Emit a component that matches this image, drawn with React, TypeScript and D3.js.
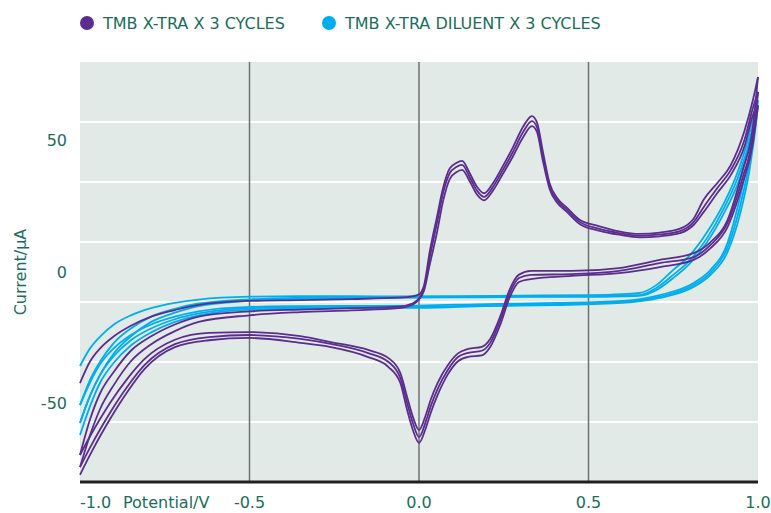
import React from "react";
import * as d3 from "d3";

// TMB X-TRA, forward sweeps (potential in V, current in µA)
const tmbFwdV = [-1.0, -0.97, -0.94, -0.9, -0.85, -0.79, -0.72, -0.65, -0.5, -0.35, -0.2, -0.06, -0.02, 0.0, 0.015, 0.032, 0.053, 0.071, 0.091, 0.11, 0.127, 0.15, 0.171, 0.192, 0.218, 0.248, 0.277, 0.307, 0.333, 0.348, 0.366, 0.386, 0.407, 0.437, 0.475, 0.53, 0.59, 0.65, 0.71, 0.77, 0.81, 0.84, 0.88, 0.92, 0.96, 0.985, 1.0];
const tmbFwd1 = [-42.3, -34, -29, -24.5, -20.5, -17, -14.5, -12.5, -11, -10.7, -10.3, -9.8, -9.3, -8.5, -5, 8, 21, 32, 39.5, 41.5, 42.3, 37.5, 32.5, 30, 33.8, 40.5, 47.5, 55.3, 59.4, 57, 45.5, 33.5, 28.3, 24.4, 19.8, 17.5, 15.5, 14.5, 15, 16.5, 20.3, 27.6, 33.9, 40.8, 53.7, 65.5, 74.3];
const tmbFwd2 = [-69.7, -56, -46, -38, -30, -24.5, -20, -17, -15, -14.3, -13.8, -13.2, -12, -10, -6, 5.7, 18.7, 30.1, 37.7, 40, 40.8, 36, 31, 28.6, 32.4, 39, 45.7, 53.3, 57.5, 55.2, 43.8, 32.4, 27.4, 23.6, 19, 16.5, 14.8, 13.8, 14.3, 15.6, 19, 24.8, 32, 38.9, 50.3, 62.5, 68.6];
const tmbFwd3 = [-74.3, -62, -52, -43, -34, -27.5, -22.5, -19, -16.5, -15.3, -14.6, -13.8, -12.5, -10.5, -7, 3, 15, 27, 35.5, 38, 38.9, 34.5, 29.5, 27.3, 31, 37.5, 44, 51.3, 55.6, 53.4, 42, 31.3, 26.5, 22.8, 18.2, 15.8, 14.2, 13.2, 13.6, 14.8, 17.9, 22.9, 30.1, 37, 47.8, 59.8, 63.6];

// TMB X-TRA, reverse sweeps
const tmbRevV = [-1.0, -0.97, -0.94, -0.91, -0.86, -0.81, -0.72, -0.62, -0.5, -0.35, -0.26, -0.15, -0.09, -0.055, -0.035, -0.018, 0.0, 0.02, 0.035, 0.055, 0.085, 0.115, 0.145, 0.185, 0.21, 0.24, 0.268, 0.295, 0.33, 0.45, 0.59, 0.71, 0.81, 0.86, 0.91, 0.955, 0.985, 1.0];
const tmbRev1 = [-69.7, -62.5, -55.8, -49.6, -40.6, -33.2, -25.8, -23.2, -22.9, -24.4, -26.7, -29.7, -32.8, -38.5, -47.6, -55.2, -60.2, -54.5, -48.5, -42.2, -35.5, -31, -29.3, -28.5, -25.5, -16.8, -6.5, -1, 0.4, 0.4, 1.5, 4.6, 7.2, 11.4, 19.8, 38.9, 55.2, 74.3];
const tmbRev2 = [-74.3, -66.8, -59.8, -53.3, -43.6, -35.5, -27.5, -24.8, -24, -25.5, -27.4, -30.9, -34.3, -40.4, -49.9, -57.5, -62.9, -57, -51, -44.5, -37.3, -32.4, -30.8, -30, -27, -18.3, -8, -2.3, -1.1, -0.8, 0.4, 3.4, 5.7, 10.3, 18.7, 36.2, 51.4, 68.6];
const tmbRev3 = [-77.3, -69.6, -62.4, -55.7, -45.6, -37, -28.6, -26, -25.1, -27, -28.6, -32.4, -36.2, -42.3, -52.6, -60.2, -65.1, -59.5, -53.5, -46.8, -39, -34, -32.3, -31.8, -28.6, -20, -9.5, -3.8, -2.7, -1.5, -0.4, 1.9, 4.6, 9.1, 17.1, 33.9, 49.1, 63.6];

// TMB X-TRA diluent, forward sweeps
const dilFwdV = [-1.0, -0.97, -0.94, -0.9, -0.85, -0.79, -0.72, -0.65, -0.5, -0.35, -0.2, -0.06, 0.1, 0.3, 0.5, 0.6, 0.65, 0.7, 0.75, 0.8, 0.85, 0.9, 0.94, 0.97, 0.99, 1.0];
const dilFwd1 = [-35.8, -29, -24.5, -20, -16.5, -13.8, -11.8, -10.5, -9.4, -9.2, -9.2, -9.3, -9.2, -9, -8.8, -8.4, -8, -5, 0.8, 6.5, 15.2, 26.3, 38.1, 50.3, 61.7, 68.6];
const dilFwd2 = [-50.7, -41, -34, -27, -21.5, -17, -14, -12, -10.4, -9.8, -9.6, -9.6, -9.5, -9.3, -9.2, -8.9, -8.8, -6.1, -1.1, 4.6, 13, 24.4, 35.8, 47.6, 58.7, 65.5];
const dilFwd3 = [-57.5, -47, -39, -31, -24.5, -19, -15.5, -13, -11, -10.2, -9.9, -9.8, -9.7, -9.5, -9.5, -9.3, -9.1, -6.9, -2.3, 3.4, 11.4, 22.5, 33.5, 45.3, 56.4, 63.2];

// TMB X-TRA diluent, reverse sweeps
const dilRevV = [-1.0, -0.97, -0.94, -0.9, -0.85, -0.79, -0.72, -0.65, -0.5, -0.35, -0.2, 0.0, 0.2, 0.4, 0.6, 0.71, 0.81, 0.86, 0.91, 0.945, 0.975, 0.995, 1.0];
const dilRev1 = [-50.7, -42, -35, -29, -24, -20, -17, -15, -13.3, -13, -12.9, -12.8, -12.2, -11.8, -11, -8.8, -4.2, 0.8, 11, 27.4, 45.3, 62, 68.6];
const dilRev2 = [-57.5, -47, -39, -32, -26, -21.5, -18, -15.8, -13.8, -13.4, -13.3, -13.3, -12.6, -12.2, -11.4, -9.4, -5, -0.2, 9.3, 24, 42, 59.5, 65.5];
const dilRev3 = [-62.1, -51, -42, -34.5, -28, -23, -19, -16.5, -14.3, -13.9, -13.7, -13.7, -13, -12.6, -11.8, -9.9, -5.7, -1.1, 7.6, 21, 38.9, 57.5, 63.2];

const xTicks = [-1, -0.5, 0, 0.5, 1];
const yTicks = [50, 0, -50];
const legendLabels = ["TMB X-TRA X 3 CYCLES", "TMB X-TRA DILUENT X 3 CYCLES"];

const PURPLE = "#5b2d8f";
const BLUE = "#00aeef";
const TEXT = "#1a6e5c";
const FONT = "'DejaVu Sans', sans-serif";

const zip = (xs: number[], ys: number[]) => xs.map((v, i) => [v, ys[i]] as [number, number]);

export default function App() {
  const width = 771;
  const height = 513;
  const left = 80, right = 758, top = 62, bottom = 482;

  const x = d3.scaleLinear().domain([-1, 1]).range([left, right]);
  const y = d3.scaleLinear().domain([-80, 80]).range([bottom, top]);
  const line = d3
    .line<[number, number]>()
    .x((d) => x(d[0]))
    .y((d) => y(d[1]))
    .curve(d3.curveMonotoneX);

  // horizontal bands: plot split in 7 equal parts
  const bands = d3.range(1, 7).map((k) => -80 + (k * 160) / 7);

  const blueSeries = [
    zip(dilFwdV, dilFwd1), zip(dilFwdV, dilFwd2), zip(dilFwdV, dilFwd3),
    zip(dilRevV, dilRev1), zip(dilRevV, dilRev2), zip(dilRevV, dilRev3),
  ];
  const purpleSeries = [
    zip(tmbFwdV, tmbFwd1), zip(tmbFwdV, tmbFwd2), zip(tmbFwdV, tmbFwd3),
    zip(tmbRevV, tmbRev1), zip(tmbRevV, tmbRev2), zip(tmbRevV, tmbRev3),
  ];

  return (
    <svg
      width={width}
      height={height}
      style={{ position: "absolute", left: 0, top: 0, background: "#fff" }}
      fontFamily={FONT}
    >
      {/* legend */}
      <g fontSize={16} fill={TEXT}>
        <circle cx={87} cy={23} r={7} fill={PURPLE} />
        <text x={103} y={29}>{legendLabels[0]}</text>
        <circle cx={329} cy={23} r={7} fill={BLUE} />
        <text x={345} y={29}>{legendLabels[1]}</text>
      </g>

      <rect x={left} y={top} width={right - left} height={bottom - top} fill="#e1eae7" />
      {bands.map((b) => (
        <line key={b} x1={left} x2={right} y1={y(b)} y2={y(b)} stroke="#fff" strokeWidth={2} />
      ))}
      {xTicks.slice(1, -1).map((t) => (
        <line key={t} x1={x(t)} x2={x(t)} y1={top} y2={bottom} stroke="#707070" strokeWidth={1.5} />
      ))}

      <g fill="none" strokeWidth={1.8} strokeLinejoin="round">
        {blueSeries.map((s, i) => (
          <path key={"b" + i} d={line(s) || ""} stroke={BLUE} />
        ))}
        {purpleSeries.map((s, i) => (
          <path key={"p" + i} d={line(s) || ""} stroke={PURPLE} />
        ))}
      </g>

      <line x1={left} x2={right} y1={bottom} y2={bottom} stroke="#231f20" strokeWidth={3} />

      {/* axes text */}
      <g fontSize={16} fill={TEXT}>
        {xTicks.map((t, i) => (
          <text key={t} x={x(t)} y={508} textAnchor={i === 0 ? "start" : "middle"}>
            {t.toFixed(1)}
          </text>
        ))}
        <text x={123} y={508}>Potential/V</text>
        {yTicks.map((t) => (
          <text key={t} x={67} y={y(t)} dy="0.35em" textAnchor="end">
            {t}
          </text>
        ))}
        <text transform="translate(26,272) rotate(-90)" textAnchor="middle">
          Current/μA
        </text>
      </g>
    </svg>
  );
}
